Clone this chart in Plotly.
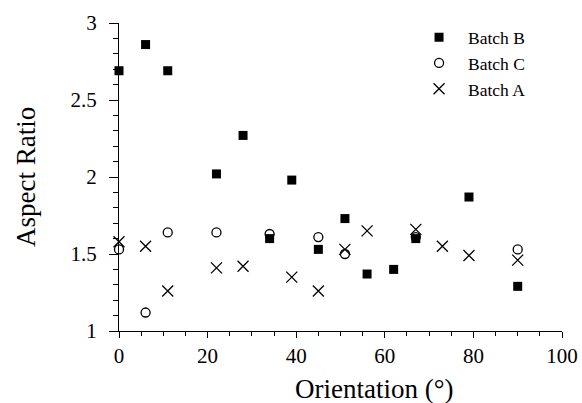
import plotly.graph_objects as go

# Data
batch_b_x = [0, 6, 11, 22, 28, 34, 39, 45, 51, 56, 62, 67, 79, 90]
batch_b_y = [2.69, 2.86, 2.69, 2.02, 2.27, 1.60, 1.98, 1.53, 1.73, 1.37, 1.40, 1.60, 1.87, 1.29]

batch_c_x = [0, 6, 11, 22, 34, 45, 51, 67, 90]
batch_c_y = [1.53, 1.12, 1.64, 1.64, 1.63, 1.61, 1.50, 1.61, 1.53]

batch_a_x = [0, 6, 11, 22, 28, 39, 45, 51, 56, 67, 73, 79, 90]
batch_a_y = [1.58, 1.55, 1.26, 1.41, 1.42, 1.35, 1.26, 1.53, 1.65, 1.66, 1.55, 1.49, 1.46]

x_title = "Orientation (°)"
y_title = "Aspect Ratio"

FONT = "Liberation Serif"

fig = go.Figure()
fig.add_trace(go.Scatter(
    x=batch_b_x, y=batch_b_y, mode="markers", name="Batch B", cliponaxis=False,
    marker=dict(symbol="square", size=9, color="black", line=dict(width=0)),
))
fig.add_trace(go.Scatter(
    x=batch_c_x, y=batch_c_y, mode="markers", name="Batch C", cliponaxis=False,
    marker=dict(symbol="circle-open", size=9, color="black", line=dict(width=1.3, color="black")),
))
fig.add_trace(go.Scatter(
    x=batch_a_x, y=batch_a_y, mode="markers", name="Batch A", cliponaxis=False,
    marker=dict(symbol="x-thin-open", size=11, color="black", line=dict(width=1.3, color="black")),
))

fig.update_layout(
    width=582, height=403,
    margin=dict(l=119, r=20, t=23, b=72),
    paper_bgcolor="white", plot_bgcolor="white",
    font=dict(family=FONT, color="black", size=21),
    showlegend=True,
    legend=dict(
        x=0.657, y=1.012, xanchor="left", yanchor="top",
        font=dict(family=FONT, size=17.5, color="black"),
        bgcolor="rgba(0,0,0,0)", borderwidth=0, itemwidth=48,
        tracegroupgap=0,
    ),
    xaxis=dict(
        range=[0, 100], dtick=20, tick0=0, automargin=False,
        showgrid=False, zeroline=False,
        showline=True, linecolor="black", linewidth=1,
        ticks="outside", ticklen=6, tickwidth=1, tickcolor="black",
        minor=dict(dtick=5, ticks="outside", ticklen=4, tickwidth=1, tickcolor="black", showgrid=False),
        tickfont=dict(family=FONT, size=21, color="black"),
    ),
    yaxis=dict(
        range=[1, 3], dtick=0.5, tick0=1, automargin=False,
        showgrid=False, zeroline=False,
        showline=True, linecolor="black", linewidth=1,
        ticks="outside", ticklen=9, tickwidth=1, tickcolor="black",
        minor=dict(dtick=0.1, ticks="outside", ticklen=5, tickwidth=1, tickcolor="black", showgrid=False),
        tickfont=dict(family=FONT, size=21, color="black"),
        ticklabelstandoff=8,
    ),
    annotations=[
        dict(text=x_title, xref="paper", yref="paper", x=(374 - 119) / 443, y=0,
             xanchor="center", yanchor="top", yshift=-41, showarrow=False,
             font=dict(family=FONT, size=27, color="black")),
        dict(text=y_title, xref="paper", yref="paper", x=0, y=0.5,
             xanchor="center", yanchor="middle", xshift=-93, showarrow=False, textangle=-90,
             font=dict(family=FONT, size=27, color="black")),
    ],
)

fig.write_html("out.html", config={"displayModeBar": False},
               post_script="document.body.style.margin='0';document.body.style.padding='0';")
